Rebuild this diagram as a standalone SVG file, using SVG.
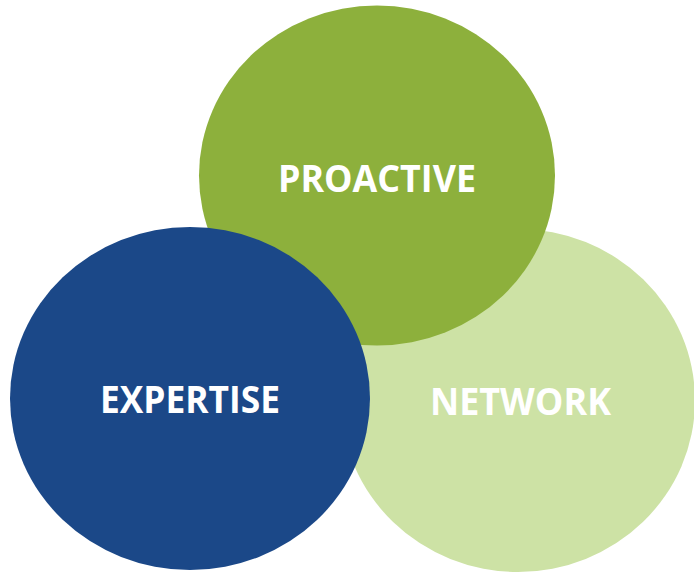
<svg xmlns="http://www.w3.org/2000/svg" width="694" height="573" viewBox="0 0 694 573">
<style>
.lbl{font-family:"Open Sans","Liberation Sans",sans-serif;font-weight:bold;font-size:37px;fill:#ffffff;text-anchor:middle}
</style>
<rect width="694" height="573" fill="#ffffff"/>
<g id="network">
<ellipse cx="518" cy="400.5" rx="177" ry="171.5" fill="#CDE2A5"/>
<text class="lbl" x="520.5" y="415" textLength="181" lengthAdjust="spacingAndGlyphs">NETWORK</text>
</g>
<g id="proactive">
<ellipse cx="377" cy="175.5" rx="178" ry="170" fill="#8DB03C"/>
<text class="lbl" x="377" y="192" textLength="198" lengthAdjust="spacingAndGlyphs">PROACTIVE</text>
</g>
<g id="expertise">
<ellipse cx="190" cy="398.5" rx="180" ry="171.5" fill="#1B4888"/>
<text class="lbl" x="190" y="413" textLength="180" lengthAdjust="spacingAndGlyphs">EXPERTISE</text>
</g>
<g id="connectors"/>
</svg>
